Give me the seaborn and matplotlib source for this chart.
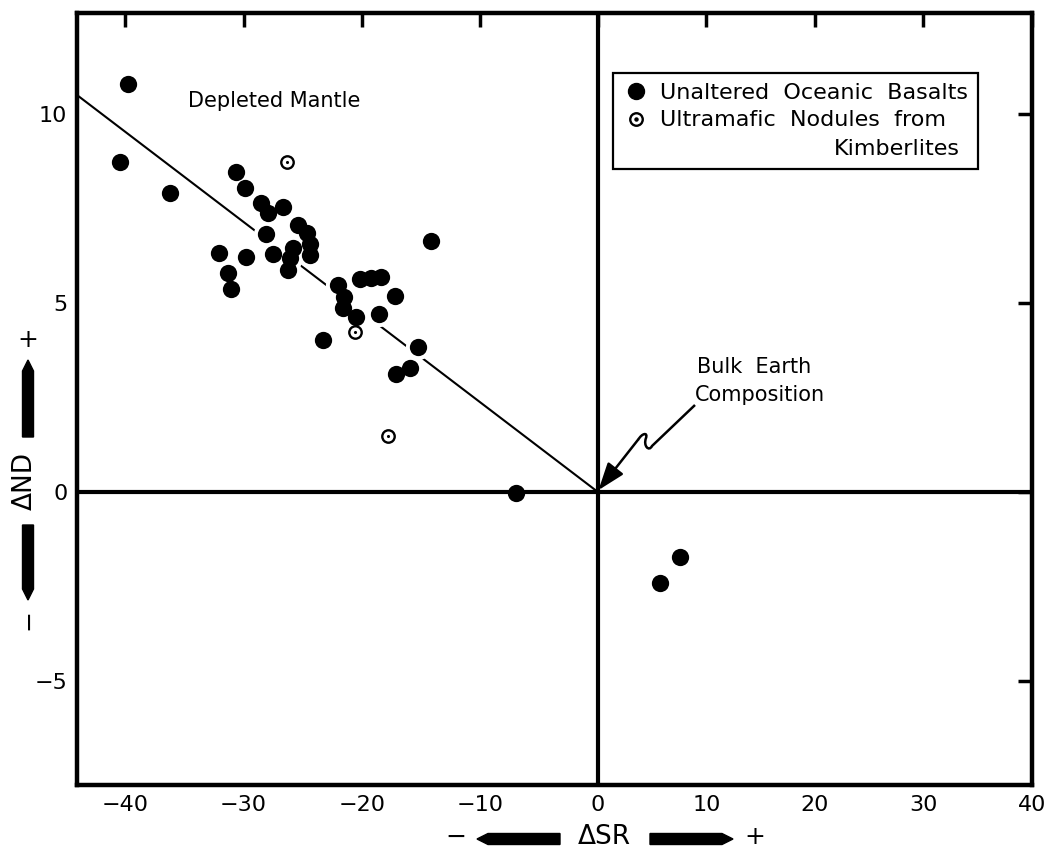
import numpy as np
import matplotlib
matplotlib.use("Agg")
import matplotlib.pyplot as plt
import matplotlib.transforms as mtransforms
import seaborn as sns
from matplotlib.lines import Line2D
from matplotlib.legend_handler import HandlerTuple
from matplotlib.patches import FancyArrow, PathPatch
from matplotlib.path import Path

# ---------------- data ----------------
basalt_dsr = [-39.8, -40.5, -36.2, -30.6, -29.9, -28.5, -27.9, -26.7, -25.4, -24.6,
              -24.4, -24.4, -28.1, -32.1, -29.8, -27.5, -25.8, -26.1, -26.2, -31.3,
              -31.1, -22.0, -21.5, -21.6, -20.5, -20.1, -19.2, -18.4, -17.2, -18.5,
              -23.3, -15.2, -15.9, -17.1, -14.1, -6.9, 7.6, 5.7]
basalt_dnd = [10.8, 8.72, 7.90, 8.46, 8.03, 7.65, 7.37, 7.54, 7.06, 6.84,
              6.56, 6.27, 6.83, 6.31, 6.22, 6.29, 6.45, 6.18, 5.87, 5.79,
              5.38, 5.48, 5.17, 4.86, 4.62, 5.63, 5.66, 5.68, 5.18, 4.70,
              4.02, 3.84, 3.29, 3.12, 6.65, -0.03, -1.71, -2.42]
nodule_dsr = [-26.3, -20.6, -17.8]
nodule_dnd = [8.74, 4.22, 1.48]
trend_dsr = [-44.1, 0.0]
trend_dnd = [10.5, 0.0]
x_ticks = [-40, -30, -20, -10, 0, 10, 20, 30, 40]
y_ticks = [-5, 0, 5, 10]
legend_labels = ["Unaltered  Oceanic  Basalts", "Ultramafic  Nodules  from  \nKimberlites"]

# ---------------- style ----------------
sns.set_theme(style="white")
plt.rcParams["font.family"] = ["DejaVu Sans"]
plt.rcParams["text.color"] = "black"

W, H = 1050, 850
fig = plt.figure(figsize=(W / 100, H / 100), dpi=100)
fig.patch.set_facecolor("white")
ax = fig.add_axes([77 / W, 1 - 785 / H, (1032 - 77) / W, (785 - 13) / H])
ax.set_facecolor("white")

# pixel transform (top-left origin) for decorations outside the axes
pix = mtransforms.Affine2D().scale(1, -1).translate(0, H).scale(1 / W, 1 / H) + fig.transFigure

# hand-drawn original has a slightly wider spacing on the negative side
K = 1.0885
def fwd(x):
    x = np.asarray(x, dtype=float)
    return np.where(x < 0, x * K, x)
def inv(y):
    y = np.asarray(y, dtype=float)
    return np.where(y < 0, y / K, y)

# ---------------- marks ----------------
sns.lineplot(x=trend_dsr, y=trend_dnd, ax=ax, color="black", lw=1.5, zorder=2,
             sort=False, estimator=None)
# white halos: the trend line stops short of the dots, as drafted
sns.scatterplot(x=basalt_dsr, y=basalt_dnd, ax=ax, s=330, color="white",
                linewidth=0, zorder=3, legend=False)
ax.axhline(0, color="black", lw=3, zorder=3.5)
ax.axvline(0, color="black", lw=3, zorder=3.5)
sns.scatterplot(x=basalt_dsr, y=basalt_dnd, ax=ax, s=155, color="black",
                linewidth=0, zorder=4, legend=False)
sns.scatterplot(x=nodule_dsr, y=nodule_dnd, ax=ax, s=80, color="white",
                edgecolor="black", linewidth=1.7, zorder=4, legend=False)
sns.scatterplot(x=nodule_dsr, y=nodule_dnd, ax=ax, s=5, color="black",
                linewidth=0, zorder=5, legend=False)

ax.set_xscale("function", functions=(fwd, inv))
ax.set_xlim(-44.1, 40)
ax.set_ylim(-7.75, 12.67)
ax.set_xticks(x_ticks)
ax.set_xticklabels([("\u2212" + str(abs(t))) if t < 0 else str(t) for t in x_ticks])
ax.set_yticks(y_ticks)
ax.set_yticklabels([("\u2212" + str(abs(t))) if t < 0 else str(t) for t in y_ticks])
ax.minorticks_off()
ax.tick_params(axis="both", direction="in", length=10, width=2.5, top=True, right=True,
               labelsize=16, colors="black", pad=7)
for sp in ax.spines.values():
    sp.set_linewidth(3.2)
    sp.set_color("black")
    sp.set_zorder(6)

# ---------------- legend ----------------
class ShiftedTuple(HandlerTuple):
    """Overlay the handles and lift them to the first line of a two-line label."""
    def __init__(self, dy=0.0, **kw):
        super().__init__(**kw)
        self.dy = dy

    def create_artists(self, legend, orig_handle, xdescent, ydescent, width, height,
                       fontsize, trans):
        return super().create_artists(legend, orig_handle, xdescent, ydescent, width,
                                      height, fontsize,
                                      mtransforms.Affine2D().translate(0, self.dy) + trans)

h1 = Line2D([], [], ls="", marker="o", ms=11.5, color="black")
h2a = Line2D([], [], ls="", marker="o", ms=9, mfc="white", mec="black", mew=1.7)
h2b = Line2D([], [], ls="", marker="o", ms=2.2, color="black")
leg = ax.legend([h1, (h2a, h2b)], legend_labels,
                handler_map={tuple: ShiftedTuple(dy=11.6, ndivide=1, pad=0)},
                loc="upper right", bbox_to_anchor=(0.9435, 0.9223), borderaxespad=0,
                frameon=True, fancybox=False, edgecolor="black", framealpha=1,
                fontsize=16, handlelength=1.2, handletextpad=0.47, labelspacing=0.3,
                borderpad=0.45)
leg.get_frame().set_linewidth(1.6)
t2 = leg.get_texts()[1]
t2.set_multialignment("right")
t2.set_linespacing(1.6)

# ---------------- annotations ----------------
ax.text(-34.7, 10.19, "Depleted Mantle", fontsize=15, ha="left", va="baseline")
ax.text(9.12, 3.15, "Bulk  Earth", fontsize=15, ha="left", va="baseline")
ax.text(8.94, 2.41, "Composition", fontsize=15, ha="left", va="baseline")

# squiggly leader from the label towards the origin
tail = Path([(695, 405), (652, 446),
             (649, 452), (643, 446), (646, 438),
             (648, 432), (642, 433), (638, 440)],
            [Path.MOVETO, Path.LINETO,
             Path.CURVE4, Path.CURVE4, Path.CURVE4,
             Path.CURVE4, Path.CURVE4, Path.CURVE4])
fig.add_artist(PathPatch(tail, transform=pix, fill=False, lw=1.8, edgecolor="black"))
ax.annotate("", xy=(0.05, 0.05), xytext=(3.69, 1.38),
            arrowprops=dict(arrowstyle="-|>,head_length=1.4,head_width=0.5",
                            lw=1.8, color="black", shrinkA=0, shrinkB=0),
            zorder=7)

# ---------------- axis labels with pencil arrows ----------------
ax.set_xlabel("")
ax.set_ylabel("")
fig.text(604, 837, "\u0394SR", transform=pix, fontsize=19, ha="center", va="center")
fig.text(456, 837, "\u2212", transform=pix, fontsize=18, ha="center", va="center")
fig.text(755, 837, "+", transform=pix, fontsize=18, ha="center", va="center")
fig.add_artist(FancyArrow(560, 839, -83, 0, width=11, head_width=11, head_length=11,
                          length_includes_head=True, transform=pix, color="black"))
fig.add_artist(FancyArrow(650, 839, 83, 0, width=11, head_width=11, head_length=11,
                          length_includes_head=True, transform=pix, color="black"))

fig.text(25, 481, "\u0394ND", transform=pix, fontsize=19, ha="center", va="center",
         rotation=90)
fig.text(28, 340, "+", transform=pix, fontsize=18, ha="center", va="center")
fig.text(28, 620, "\u2212", transform=pix, fontsize=18, ha="center", va="center",
         rotation=90)
fig.add_artist(FancyArrow(28, 437, 0, -77, width=11, head_width=11, head_length=11,
                          length_includes_head=True, transform=pix, color="black"))
fig.add_artist(FancyArrow(28, 525, 0, 75, width=11, head_width=11, head_length=11,
                          length_includes_head=True, transform=pix, color="black"))

fig.savefig("out.png", dpi=100, facecolor="white")
